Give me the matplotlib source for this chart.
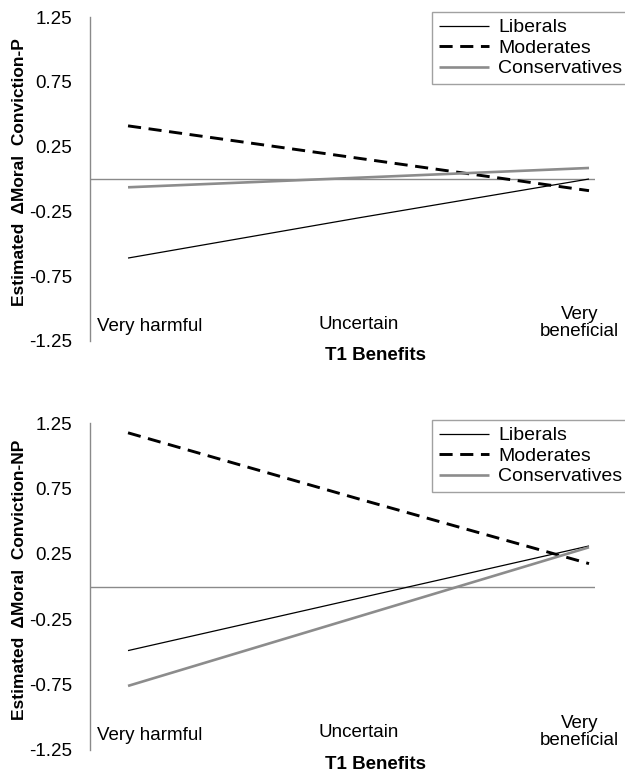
import matplotlib
matplotlib.use("Agg")
import matplotlib.pyplot as plt

plt.rcParams['font.family'] = ['Liberation Sans', 'DejaVu Sans']

categories = ["Very harmful", "Uncertain", "Very beneficial"]
category_labels = ["Very harmful", "Uncertain", "Very\nbeneficial"]
series_names = ["Liberals", "Moderates", "Conservatives"]

# Panel 1: Estimated ΔMoral Conviction-P
p_liberals = [-0.61, -0.30, 0.00]
p_moderates = [0.41, 0.16, -0.09]
p_conservatives = [-0.064, 0.01, 0.085]

# Panel 2: Estimated ΔMoral Conviction-NP
np_liberals = [-0.49, -0.09, 0.31]
np_moderates = [1.175, 0.67, 0.175]
np_conservatives = [-0.76, -0.23, 0.30]

yticks = [1.25, 0.75, 0.25, -0.25, -0.75, -1.25]
ytick_labels = ["1.25", "0.75", "0.25", "-0.25", "-0.75", "-1.25"]

W, H = 625, 772
fig = plt.figure(figsize=(W / 100, H / 100), dpi=100)

GRAY = "#8a8a8a"
styles = [
    dict(color="black", lw=0.9, ls="-"),
    dict(color="black", lw=2.1, ls=(0, (4.5, 2.6))),
    dict(color="#8c8c8c", lw=1.9, ls="-"),
]


def make_panel(rect, data, ylabel, leg_top_px):
    ax = fig.add_axes(rect)
    xs = list(range(len(categories)))
    for vals, st, name in zip(data, styles, series_names):
        ax.plot(xs, vals, label=name, solid_capstyle="butt", dash_capstyle="butt", **st)
    ax.axhline(0, color=GRAY, lw=1.0, zorder=1)
    ax.set_xlim(-0.165, 2.026)
    ax.set_ylim(-1.25, 1.25)
    ax.set_yticks(yticks)
    ax.set_yticklabels(ytick_labels)
    ax.tick_params(axis="y", length=0, pad=13, labelsize=13.5)
    ax.set_xticks([])
    for s in ["top", "right", "bottom"]:
        ax.spines[s].set_visible(False)
    ax.spines["left"].set_color(GRAY)
    ax.spines["left"].set_linewidth(1.0)
    # category labels inside the plot area
    ax.text(0.095, -1.14, category_labels[0], ha="center", va="center", fontsize=13.5)
    ax.text(1.0, -1.12, category_labels[1], ha="center", va="center", fontsize=13.5)
    ax.text(1.96, -1.11, category_labels[2], ha="center", va="center", fontsize=13.5,
            linespacing=1.0)
    ax.set_ylabel(ylabel, fontsize=12.5, fontweight="bold")
    ax.yaxis.set_label_coords(-0.125, 0.52)
    ax.text(0.565, -0.045, "T1 Benefits", transform=ax.transAxes, ha="center",
            va="center", fontsize=13.5, fontweight="bold")
    leg = ax.legend(loc="upper left", bbox_to_anchor=(432 / W, 1 - leg_top_px / H),
                    bbox_transform=fig.transFigure, fontsize=14, frameon=True,
                    fancybox=False, edgecolor=GRAY, handlelength=2.6,
                    handletextpad=0.45, borderpad=0.35, labelspacing=0.15,
                    borderaxespad=0)
    leg.get_frame().set_linewidth(1.0)
    return ax


left = 90 / W
width = (595 - 90) / W
make_panel([left, 1 - 341 / H, width, 324 / H],
           [p_liberals, p_moderates, p_conservatives],
           "Estimated  \u0394Moral  Conviction-P", 12)
make_panel([left, 1 - 750 / H, width, 327 / H],
           [np_liberals, np_moderates, np_conservatives],
           "Estimated  \u0394Moral  Conviction-NP", 420)

fig.savefig("out.png", dpi=100)
